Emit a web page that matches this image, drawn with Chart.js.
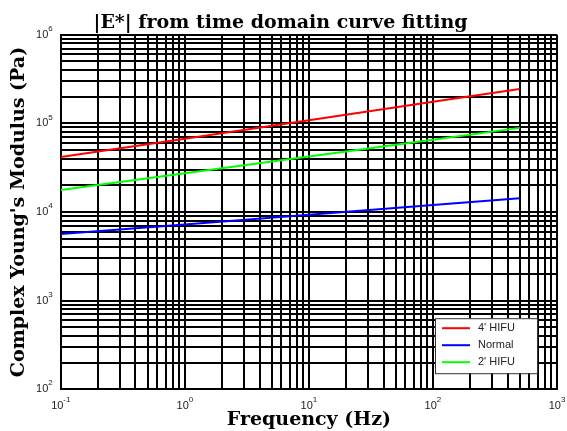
<!DOCTYPE html>
<html>
<head>
<meta charset="utf-8">
<script src="https://cdn.jsdelivr.net/npm/chart.js@4"></script>
<style>
  html, body { margin: 0; padding: 0; background: #fff; }
  #wrap { width: 567px; height: 431px; }
</style>
</head>
<body>
<div id="wrap"><canvas id="myChart"></canvas></div>
<script>
// values (frequency in Hz, modulus in Pa)
var freq = [0.1, 1, 10, 100, 500];
var hifu4 = [41700, 67300, 108600, 175400, 245000];
var normal = [5640, 7240, 9310, 11970, 14300];
var hifu2 = [17700, 27400, 42400, 65500, 89000];

var xDecades = [-1, 0, 1, 2, 3];
var yDecades = [2, 3, 4, 5, 6];

function pairs(ys) {
  return freq.map(function (f, i) { return { x: f, y: ys[i] }; });
}

// all 1..9 ticks of every decade, so each one gets a grid line
function logTicks(decades) {
  var t = [];
  for (var i = 0; i < decades.length - 1; i++) {
    for (var m = 1; m <= 9; m++) t.push({ value: m * Math.pow(10, decades[i]) });
  }
  t.push({ value: Math.pow(10, decades[decades.length - 1]) });
  return t;
}

// "10" with a raised exponent, like the original tick labels
function drawPower(ctx, exp, x, y, align) {
  ctx.font = "11px 'Liberation Sans', Arial, sans-serif";
  var base = ctx.measureText("10").width;
  ctx.font = "8px 'Liberation Sans', Arial, sans-serif";
  var sup = ctx.measureText(String(exp)).width;
  var left = align === "right" ? x - base - sup : x - (base + sup) / 2;
  ctx.fillStyle = "#222";
  ctx.textBaseline = "middle";
  ctx.textAlign = "left";
  ctx.font = "11px 'Liberation Sans', Arial, sans-serif";
  ctx.fillText("10", left, y);
  ctx.font = "8px 'Liberation Sans', Arial, sans-serif";
  ctx.fillText(String(exp), left + base, y - 6);
}

var powerLabels = {
  id: "powerLabels",
  afterDraw: function (chart) {
    var ctx = chart.ctx;
    var xs = chart.scales.x, ys = chart.scales.y;
    ctx.save();
    yDecades.forEach(function (e) {
      drawPower(ctx, e, chart.chartArea.left - 8, ys.getPixelForValue(Math.pow(10, e)), "right");
    });
    xDecades.forEach(function (e) {
      drawPower(ctx, e, xs.getPixelForValue(Math.pow(10, e)), chart.chartArea.bottom + 17, "center");
    });
    ctx.restore();
  }
};

// legend box in the lower right corner of the plot
var boxLegend = {
  id: "boxLegend",
  afterDraw: function (chart) {
    var ctx = chart.ctx;
    var area = chart.chartArea;
    var w = 102, h = 55;
    var x0 = area.right - 20 - w, y0 = area.bottom - 16 - h;
    ctx.save();
    ctx.fillStyle = "#fff";
    ctx.fillRect(x0, y0, w, h);
    ctx.strokeStyle = "#333";
    ctx.lineWidth = 1;
    ctx.strokeRect(x0 + 0.5, y0 + 0.5, w, h);
    ctx.font = "11px 'Liberation Sans', Arial, sans-serif";
    ctx.textBaseline = "middle";
    ctx.textAlign = "left";
    chart.data.datasets.forEach(function (ds, i) {
      var yy = y0 + 10 + i * 17;
      ctx.strokeStyle = ds.borderColor;
      ctx.lineWidth = 2;
      ctx.beginPath();
      ctx.moveTo(x0 + 7, yy);
      ctx.lineTo(x0 + 35, yy);
      ctx.stroke();
      ctx.fillStyle = "#222";
      ctx.fillText(ds.label, x0 + 43, yy);
    });
    ctx.restore();
  }
};

var titleFont = { family: "'DejaVu Serif', serif", size: 19, weight: "bold" };

var ctx = document.getElementById("myChart").getContext("2d");
var myChart = new Chart(ctx, {
  type: "line",
  data: {
    datasets: [
      { label: "4' HIFU", data: pairs(hifu4), borderColor: "#ff0000" },
      { label: "Normal", data: pairs(normal), borderColor: "#0000ff" },
      { label: "2' HIFU", data: pairs(hifu2), borderColor: "#00ff00" }
    ]
  },
  options: {
    responsive: true,
    maintainAspectRatio: false,
    animation: false,
    layout: { padding: { left: 4, right: 10, top: 0, bottom: 0 } },
    elements: {
      line: { borderWidth: 2, tension: 0 },
      point: { radius: 0 }
    },
    plugins: {
      legend: { display: false },
      tooltip: { enabled: false },
      title: {
        display: true,
        text: "|E*| from time domain curve fitting",
        color: "#000",
        font: titleFont,
        padding: { top: 12, bottom: 0 }
      }
    },
    scales: {
      x: {
        type: "logarithmic",
        min: 0.1,
        max: 1000,
        afterBuildTicks: function (s) { s.ticks = logTicks(xDecades); },
        ticks: { display: false },
        grid: { color: "#000", lineWidth: 2, drawTicks: false },
        border: { color: "#000", width: 2 },
        title: {
          display: true,
          text: "Frequency (Hz)",
          color: "#000",
          font: titleFont,
          padding: { top: 19, bottom: 0 }
        }
      },
      y: {
        type: "logarithmic",
        min: 100,
        max: 1000000,
        afterBuildTicks: function (s) { s.ticks = logTicks(yDecades); },
        ticks: { display: false },
        grid: { color: "#000", lineWidth: 2, drawTicks: false },
        border: { color: "#000", width: 2 },
        title: {
          display: true,
          text: "Complex Young's Modulus (Pa)",
          color: "#000",
          font: titleFont,
          padding: { top: 4, bottom: 30 }
        }
      }
    }
  },
  plugins: [powerLabels, boxLegend]
});
</script>
</body>
</html>
